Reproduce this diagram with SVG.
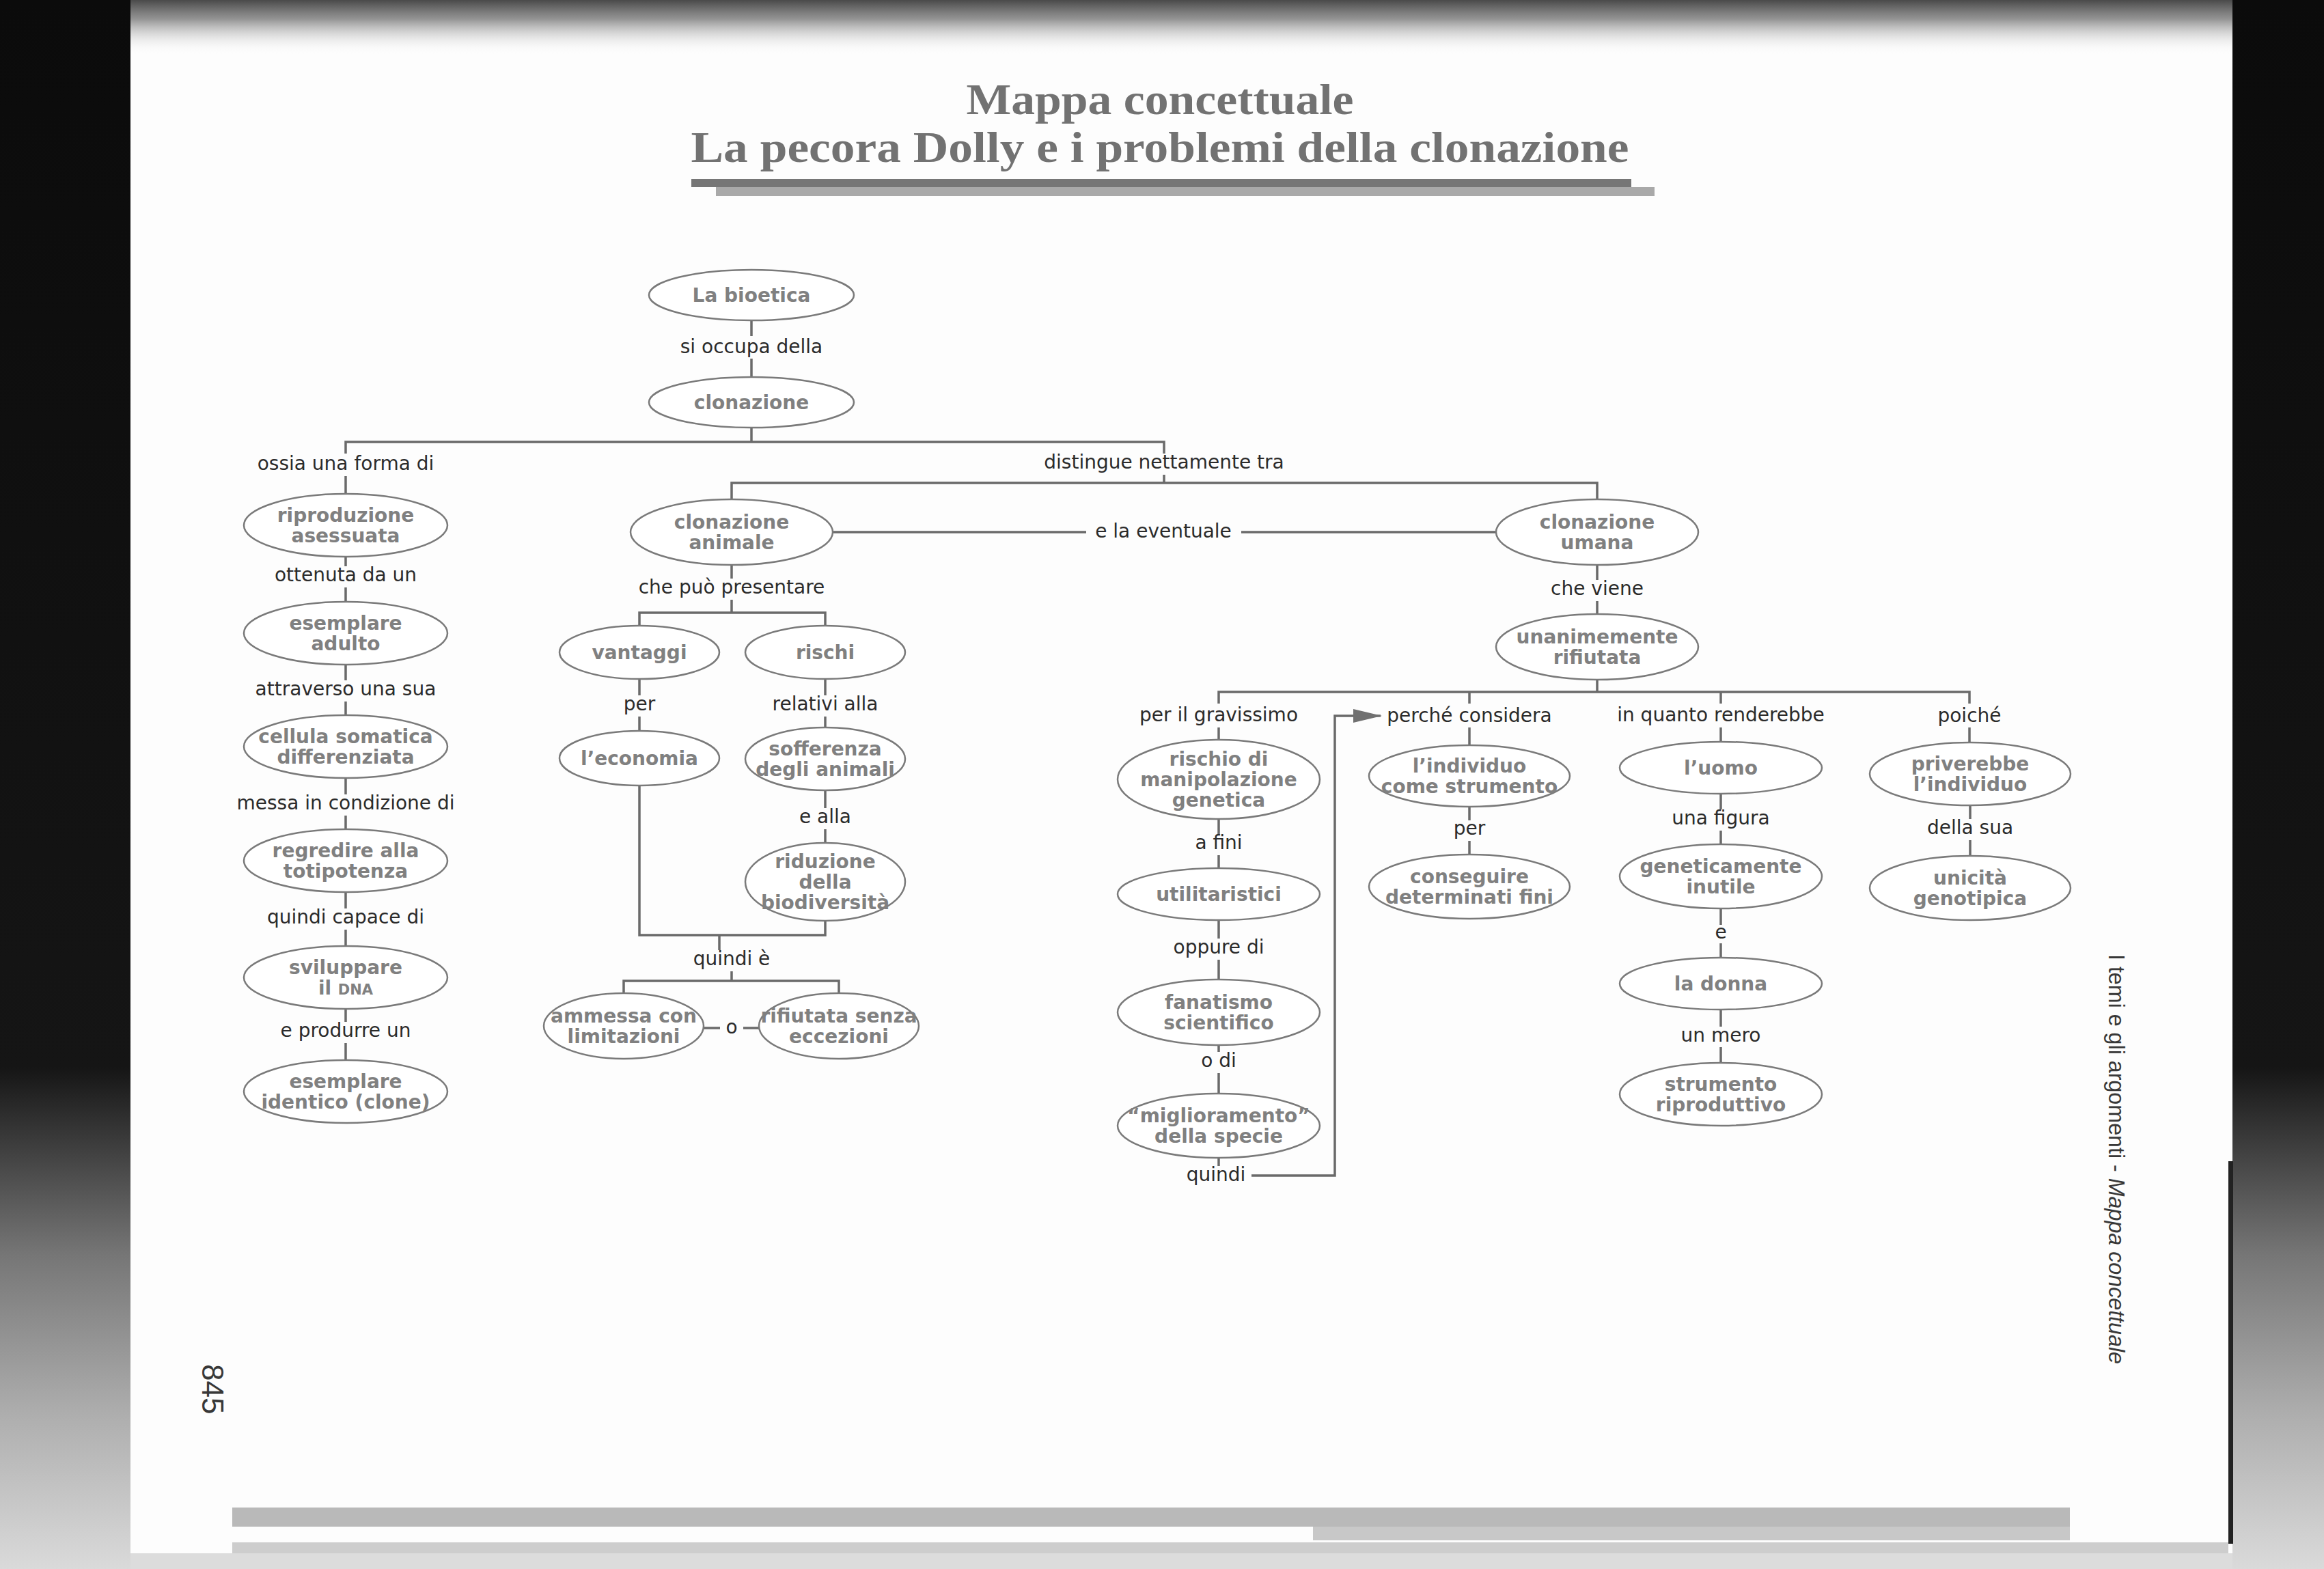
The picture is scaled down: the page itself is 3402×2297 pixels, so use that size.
<svg xmlns="http://www.w3.org/2000/svg" width="3402" height="2297" viewBox="0 0 3402 2297">
<defs>
<linearGradient id="topg" x1="0" y1="0" x2="0" y2="1">
<stop offset="0" stop-color="#4a4a4a" stop-opacity="1"/>
<stop offset="0.35" stop-color="#7a7a7a" stop-opacity="0.8"/>
<stop offset="1" stop-color="#fdfdfd" stop-opacity="0"/>
</linearGradient>
<linearGradient id="sideg" x1="0" y1="0" x2="0" y2="1">
<stop offset="0" stop-color="#0b0b0b"/>
<stop offset="0.68" stop-color="#151515"/>
<stop offset="0.8" stop-color="#767676"/>
<stop offset="0.9" stop-color="#adadad"/>
<stop offset="1" stop-color="#dadada"/>
</linearGradient>
<marker id="arr" markerUnits="userSpaceOnUse" markerWidth="42" markerHeight="20" viewBox="0 0 42 20" refX="40" refY="10" orient="auto">
<path d="M0 0 L42 10 L0 20 Z" fill="#707070"/>
</marker>
<style>
.node ellipse{fill:#fff;stroke:#7a7a7a;stroke-width:2.5}
.node text{font-family:"DejaVu Sans","Noto Sans",sans-serif;font-weight:bold;font-size:28px;fill:#808080;text-anchor:middle}
.lb{font-family:"DejaVu Sans","Noto Sans",sans-serif;font-size:28px;fill:#2b2b2b;text-anchor:middle}
.cn path{fill:none;stroke:#6a6a6a;stroke-width:3.5}
.ttl{font-family:"Liberation Serif","Times New Roman",serif;font-weight:bold;font-size:64px;fill:#727272;text-anchor:middle}
.side{font-family:"Liberation Sans",Arial,sans-serif;fill:#383838}
</style>
</defs>

<g id="page">
<rect width="3402" height="2297" fill="#fdfdfd"/>
<rect x="0" y="0" width="3402" height="80" fill="url(#topg)"/>
<rect x="0" y="0" width="191" height="2297" fill="url(#sideg)"/>
<rect x="3268" y="0" width="134" height="2297" fill="url(#sideg)"/>
<rect x="3262" y="1700" width="7" height="560" fill="#222"/>
<rect x="340" y="2207" width="2690" height="28" fill="#b9b9b9"/>
<rect x="1922" y="2235" width="1108" height="20" fill="#c8c8c8"/>
<rect x="340" y="2258" width="2922" height="16" fill="#cdcdcd"/>
<rect x="191" y="2274" width="3077" height="23" fill="#dcdcdc"/>
</g>

<g id="title">
<text class="ttl" x="1698" y="167" textLength="567" lengthAdjust="spacingAndGlyphs">Mappa concettuale</text>
<text class="ttl" x="1698" y="237" textLength="1373" lengthAdjust="spacingAndGlyphs">La pecora Dolly e i problemi della clonazione</text>
<rect x="1048" y="274" width="1374" height="13" fill="#a9a9a9"/>
<rect x="1012" y="262" width="1376" height="12" fill="#767676"/>
</g>

<g id="connectors" class="cn">
<path d="M1100 469 V492 M1100 525 V552"/>
<path d="M1100 626 V647"/>
<path d="M506 664 V647 H1704 V664"/>
<path d="M506 697 V723"/>
<path d="M1704 695 V707 M1071 731 V707 H2338 V731"/>
<path d="M506 815 V829 M506 860 V881"/>
<path d="M506 973 V996 M506 1027 V1047"/>
<path d="M506 1139 V1163 M506 1194 V1214"/>
<path d="M506 1306 V1330 M506 1361 V1385"/>
<path d="M506 1477 V1496 M506 1527 V1552"/>
<path d="M1219 779 H1590 M1817 779 H2190"/>
<path d="M1071 827 V847 M1071 878 V897 M936 916 V897 H1208 V916"/>
<path d="M936 994 V1018 M936 1049 V1070"/>
<path d="M1208 994 V1018 M1208 1049 V1065"/>
<path d="M1208 1157 V1183 M1208 1214 V1234"/>
<path d="M936 1150 V1369 H1208 V1348"/>
<path d="M1053 1369 V1391 M1071 1422 V1436 M913 1454 V1436 H1228 V1454"/>
<path d="M1030 1505 H1054 M1088 1505 H1111"/>
<path d="M2338 827 V849 M2338 880 V899"/>
<path d="M2338 995 V1013 M1784 1030 V1013 H2883 V1030 M2151 1013 V1030 M2519 1013 V1030"/>
<path d="M1784 1065 V1083"/>
<path d="M1784 1199 V1221 M1784 1252 V1271"/>
<path d="M1784 1347 V1374 M1784 1405 V1434"/>
<path d="M1784 1530 V1540 M1784 1571 V1601"/>
<path d="M1784 1695 V1707"/>
<path d="M1832 1721 H1954 V1048 H2021" marker-end="url(#arr)"/>
<path d="M2151 1065 V1091"/>
<path d="M2151 1181 V1201 M2151 1231 V1251"/>
<path d="M2519 1065 V1086"/>
<path d="M2519 1162 V1185 M2519 1216 V1236"/>
<path d="M2519 1330 V1354 M2519 1381 V1402"/>
<path d="M2519 1478 V1503 M2519 1533 V1556"/>
<path d="M2883 1065 V1087"/>
<path d="M2884 1179 V1199 M2884 1230 V1253"/>
</g>

<g id="labels">
<text class="lb" x="1100" y="517">si occupa della</text>
<text class="lb" x="506" y="688">ossia una forma di</text>
<text class="lb" x="1704" y="686">distingue nettamente tra</text>
<text class="lb" x="506" y="851">ottenuta da un</text>
<text class="lb" x="506" y="1018">attraverso una sua</text>
<text class="lb" x="506" y="1185">messa in condizione di</text>
<text class="lb" x="506" y="1352">quindi capace di</text>
<text class="lb" x="506" y="1518">e produrre un</text>
<text class="lb" x="1703" y="787">e la eventuale</text>
<text class="lb" x="1071" y="869">che può presentare</text>
<text class="lb" x="936" y="1040">per</text>
<text class="lb" x="1208" y="1040">relativi alla</text>
<text class="lb" x="1208" y="1205">e alla</text>
<text class="lb" x="1071" y="1413">quindi è</text>
<text class="lb" x="1071" y="1513">o</text>
<text class="lb" x="2338" y="871">che viene</text>
<text class="lb" x="1784" y="1056">per il gravissimo</text>
<text class="lb" x="1784" y="1243">a fini</text>
<text class="lb" x="1784" y="1396">oppure di</text>
<text class="lb" x="1784" y="1562">o di</text>
<text class="lb" x="1780" y="1729">quindi</text>
<text class="lb" x="2151" y="1057">perché considera</text>
<text class="lb" x="2151" y="1222">per</text>
<text class="lb" x="2519" y="1056">in quanto renderebbe</text>
<text class="lb" x="2519" y="1207">una figura</text>
<text class="lb" x="2519" y="1374">e</text>
<text class="lb" x="2519" y="1525">un mero</text>
<text class="lb" x="2883" y="1057">poiché</text>
<text class="lb" x="2884" y="1221">della sua</text>
</g>

<g id="n-bioetica" class="node"><ellipse cx="1100" cy="432" rx="150" ry="37"/><text x="1100" y="442">La bioetica</text></g>
<g id="n-clonazione" class="node"><ellipse cx="1100" cy="589" rx="150" ry="37"/><text x="1100" y="599">clonazione</text></g>

<g id="n-riproduzione" class="node"><ellipse cx="506" cy="769" rx="149" ry="46"/><text x="506" y="764">riproduzione<tspan x="506" dy="30">asessuata</tspan></text></g>
<g id="n-esemplare-adulto" class="node"><ellipse cx="506" cy="927" rx="149" ry="46"/><text x="506" y="922">esemplare<tspan x="506" dy="30">adulto</tspan></text></g>
<g id="n-cellula" class="node"><ellipse cx="506" cy="1093" rx="149" ry="46"/><text x="506" y="1088">cellula somatica<tspan x="506" dy="30">differenziata</tspan></text></g>
<g id="n-regredire" class="node"><ellipse cx="506" cy="1260" rx="149" ry="46"/><text x="506" y="1255">regredire alla<tspan x="506" dy="30">totipotenza</tspan></text></g>
<g id="n-sviluppare" class="node"><ellipse cx="506" cy="1431" rx="149" ry="46"/><text x="506" y="1426">sviluppare<tspan x="506" dy="30">il <tspan font-size="21">DNA</tspan></tspan></text></g>
<g id="n-clone" class="node"><ellipse cx="506" cy="1598" rx="149" ry="46"/><text x="506" y="1593">esemplare<tspan x="506" dy="30">identico (clone)</tspan></text></g>

<g id="n-animale" class="node"><ellipse cx="1071" cy="779" rx="148" ry="48"/><text x="1071" y="774">clonazione<tspan x="1071" dy="30">animale</tspan></text></g>
<g id="n-vantaggi" class="node"><ellipse cx="936" cy="955" rx="117" ry="39"/><text x="936" y="965">vantaggi</text></g>
<g id="n-rischi" class="node"><ellipse cx="1208" cy="955" rx="117" ry="39"/><text x="1208" y="965">rischi</text></g>
<g id="n-economia" class="node"><ellipse cx="936" cy="1110" rx="117" ry="40"/><text x="936" y="1120">l’economia</text></g>
<g id="n-sofferenza" class="node"><ellipse cx="1208" cy="1111" rx="117" ry="46"/><text x="1208" y="1106">sofferenza<tspan x="1208" dy="30">degli animali</tspan></text></g>
<g id="n-riduzione" class="node"><ellipse cx="1208" cy="1291" rx="117" ry="57"/><text x="1208" y="1271">riduzione<tspan x="1208" dy="30">della</tspan><tspan x="1208" dy="30">biodiversità</tspan></text></g>
<g id="n-ammessa" class="node"><ellipse cx="913" cy="1502" rx="117" ry="48"/><text x="913" y="1497">ammessa con<tspan x="913" dy="30">limitazioni</tspan></text></g>
<g id="n-rifiutata" class="node"><ellipse cx="1228" cy="1502" rx="117" ry="48"/><text x="1228" y="1497">rifiutata senza<tspan x="1228" dy="30">eccezioni</tspan></text></g>

<g id="n-umana" class="node"><ellipse cx="2338" cy="779" rx="148" ry="48"/><text x="2338" y="774">clonazione<tspan x="2338" dy="30">umana</tspan></text></g>
<g id="n-unanime" class="node"><ellipse cx="2338" cy="947" rx="148" ry="48"/><text x="2338" y="942">unanimemente<tspan x="2338" dy="30">rifiutata</tspan></text></g>
<g id="n-rischio" class="node"><ellipse cx="1784" cy="1141" rx="148" ry="58"/><text x="1784" y="1121">rischio di<tspan x="1784" dy="30">manipolazione</tspan><tspan x="1784" dy="30">genetica</tspan></text></g>
<g id="n-utilitaristici" class="node"><ellipse cx="1784" cy="1309" rx="148" ry="38"/><text x="1784" y="1319">utilitaristici</text></g>
<g id="n-fanatismo" class="node"><ellipse cx="1784" cy="1482" rx="148" ry="48"/><text x="1784" y="1477">fanatismo<tspan x="1784" dy="30">scientifico</tspan></text></g>
<g id="n-miglioramento" class="node"><ellipse cx="1784" cy="1648" rx="148" ry="47"/><text x="1784" y="1643">“miglioramento”<tspan x="1784" dy="30">della specie</tspan></text></g>
<g id="n-individuo" class="node"><ellipse cx="2151" cy="1136" rx="147" ry="45"/><text x="2151" y="1131">l’individuo<tspan x="2151" dy="30">come strumento</tspan></text></g>
<g id="n-conseguire" class="node"><ellipse cx="2151" cy="1298" rx="147" ry="47"/><text x="2151" y="1293">conseguire<tspan x="2151" dy="30">determinati fini</tspan></text></g>
<g id="n-uomo" class="node"><ellipse cx="2519" cy="1124" rx="148" ry="38"/><text x="2519" y="1134">l’uomo</text></g>
<g id="n-geneticamente" class="node"><ellipse cx="2519" cy="1283" rx="148" ry="47"/><text x="2519" y="1278">geneticamente<tspan x="2519" dy="30">inutile</tspan></text></g>
<g id="n-donna" class="node"><ellipse cx="2519" cy="1440" rx="148" ry="38"/><text x="2519" y="1450">la donna</text></g>
<g id="n-strumento" class="node"><ellipse cx="2519" cy="1602" rx="148" ry="46"/><text x="2519" y="1597">strumento<tspan x="2519" dy="30">riproduttivo</tspan></text></g>
<g id="n-priverebbe" class="node"><ellipse cx="2884" cy="1133" rx="147" ry="46"/><text x="2884" y="1128">priverebbe<tspan x="2884" dy="30">l’individuo</tspan></text></g>
<g id="n-unicita" class="node"><ellipse cx="2884" cy="1300" rx="147" ry="47"/><text x="2884" y="1295">unicità<tspan x="2884" dy="30">genotipica</tspan></text></g>

<g id="margin">
<text class="side" font-size="33" transform="translate(3087,1397) rotate(90)" textLength="600" lengthAdjust="spacingAndGlyphs">I temi e gli argomenti - <tspan font-style="italic">Mappa concettuale</tspan></text>
<text class="side" font-size="44" transform="translate(296,1997) rotate(90)">845</text>
</g>
</svg>
